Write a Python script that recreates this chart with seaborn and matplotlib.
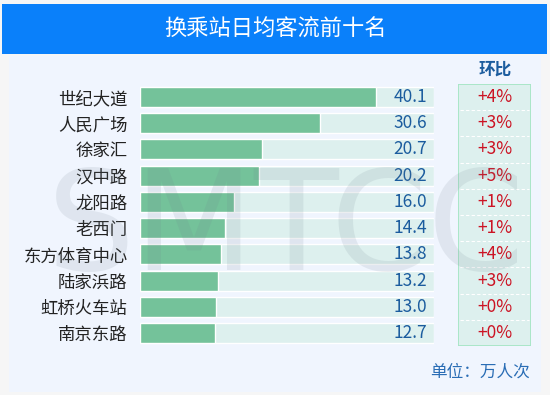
import matplotlib
matplotlib.use("Agg")
import matplotlib.pyplot as plt
from matplotlib.patches import Rectangle
from matplotlib import font_manager
import seaborn as sns
import pandas as pd

stations = ["世纪大道", "人民广场", "徐家汇", "汉中路", "龙阳路", "老西门",
            "东方体育中心", "陆家浜路", "虹桥火车站", "南京东路"]
values = [40.1, 30.6, 20.7, 20.2, 16.0, 14.4, 13.8, 13.2, 13.0, 12.7]
changes = ["+4%", "+3%", "+3%", "+5%", "+1%", "+1%", "+4%", "+3%", "+0%", "+0%"]
title = "换乘站日均客流前十名"
col_header = "环比"
unit_note = "单位：万人次"
scale_max = 50

sns.set_theme(style="white")
plt.rcParams["font.family"] = ["Noto Sans CJK SC", "DejaVu Sans"]

W, H = 550, 395
fig = plt.figure(figsize=(W / 100, H / 100), dpi=100, facecolor="#F6F6F6")

def fx(px):
    return px / W

def fy(py):
    return 1 - py / H

# panel background
panel = Rectangle((fx(9), fy(392)), fx(541) - fx(9), fy(56) - fy(392),
                  transform=fig.transFigure, facecolor="#F0F5FE",
                  edgecolor="none", zorder=-2)
fig.patches.append(panel)
# title band
fig.patches.append(Rectangle((fx(2), fy(54)), fx(547) - fx(2), fy(4) - fy(54),
                             transform=fig.transFigure, facecolor="#0A80FA",
                             edgecolor="none", zorder=-1))
fig.text(0.5, fy(29), title, color="white", fontsize=16, ha="center", va="center")

df = pd.DataFrame({"station": stations, "value": values,
                   "bg": [scale_max] * len(stations)})

top, bottom = 83.9, 346.1
ax = fig.add_axes([fx(140), fy(bottom), fx(434) - fx(140), fy(top) - fy(bottom)])
ax.set_facecolor("none")
ax.set_zorder(1)
sns.barplot(data=df, y="station", x="bg", orient="h", color="#DDF0EE",
            saturation=1, width=0.76, ax=ax, zorder=1)
sns.barplot(data=df, y="station", x="value", orient="h", color="#74C29A",
            saturation=1, width=0.76, ax=ax, zorder=2)
ax.set_xlim(0, scale_max)
ax.set_ylim(len(stations) - 0.5, -0.5)
ax.set_xlabel("")
ax.set_ylabel("")
ax.set_xticks([])
ax.tick_params(axis="y", length=0, pad=9, labelsize=12.5, labelcolor="#222222")
for s in ax.spines.values():
    s.set_visible(False)
for i, v in enumerate(values):
    ax.text(scale_max - 1.2, i, f"{v:.1f}", ha="right", va="center",
            fontsize=12.5, color="#1B5C9E", zorder=3)

# change column
ax2 = fig.add_axes([fx(458), fy(bottom), fx(531) - fx(458), fy(top) - fy(bottom)])
ax2.set_zorder(1)
ax2.set_xlim(0, 1)
ax2.set_ylim(len(stations) - 0.5, -0.5)
ax2.axis("off")
ax2.add_patch(Rectangle((0, -0.5), 1, len(stations), facecolor="#DDF0EE",
                        edgecolor="#A6E6C6", linewidth=1.3, zorder=1))
for i in range(len(stations) - 1):
    ax2.plot([0.03, 0.97], [i + 0.5, i + 0.5], color="white", lw=0.8,
             ls=(0, (3, 2)), zorder=2)
for i, c in enumerate(changes):
    ax2.text(0.5, i, c, ha="center", va="center", fontsize=12.5,
             color="#CC1424", zorder=3)
fig.text(fx(495), fy(70), col_header, ha="center", va="center", fontsize=12,
         color="#1B5C9E", fontweight="bold")
fig.text(fx(530), fy(372), unit_note, ha="right", va="center", fontsize=12,
         color="#2A6DB5")

# faint watermark
names = {f.name for f in font_manager.fontManager.ttflist}
if "Liberation Sans Narrow" in names:
    wm_family, wm_size = "Liberation Sans Narrow", 112
else:
    wm_family, wm_size = "DejaVu Sans", 100
fig.text(fx(286), fy(270), "SMTCC", ha="center", va="baseline", fontsize=wm_size,
         family=wm_family, color="#6E7F8C", alpha=0.13, zorder=5)

fig.savefig("out.png", dpi=100, facecolor=fig.get_facecolor())
